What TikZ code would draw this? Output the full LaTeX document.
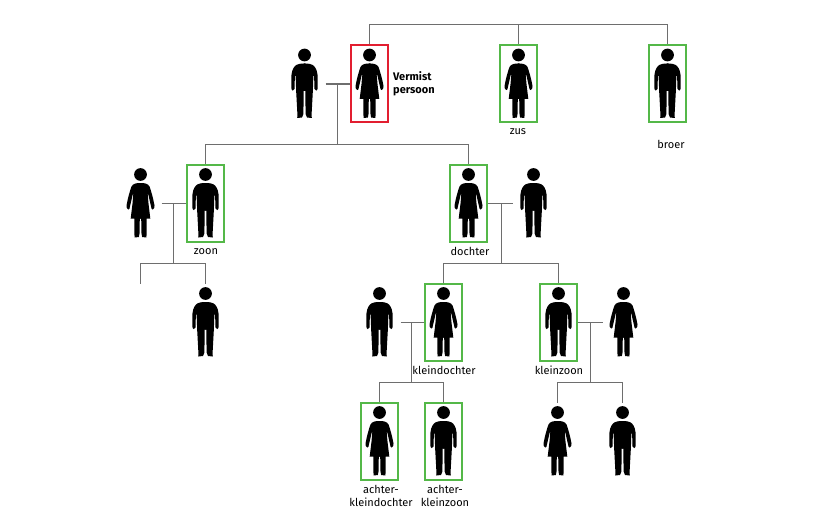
\documentclass[tikz,border=0pt]{standalone}
\usepackage{fontspec}
\setmainfont{Fira Sans}
\usepackage{tikz}
\usetikzlibrary{positioning,calc}
\definecolor{keepgreen}{RGB}{84,184,72}
\definecolor{missingred}{RGB}{226,30,48}
\definecolor{linegray}{RGB}{110,110,110}
\tikzset{
  slot/.style={minimum width=42pt,minimum height=78pt,inner sep=0pt,outer sep=0pt},
  kinbox/.style={draw=keepgreen,line width=2pt,minimum width=37pt,minimum height=77pt,inner sep=0pt,outer sep=1pt},
  missingbox/.style={kinbox,draw=missingred},
  link/.style={draw=linegray,line width=1.2pt},
  lbl/.style={font=\fontsize{11}{13}\selectfont,inner sep=0pt,align=center},
  man/.pic={
    \fill (0,-29) circle (6.4);
    \foreach \s in {1,-1}
      \fill[xscale=\s] (-1,-20.5) -- (0,-20.5) .. controls (4,-20.5) and (7.5,-20) .. (9.5,-18)
        .. controls (12,-15.5) and (13.2,-11) .. (13.2,-6) -- (13.2,4)
        .. controls (13.2,7) and (10.2,7.5) .. (10,5) -- (9.6,-8) -- (8.9,-8)
        -- (8.3,8) -- (7,32) -- (7.4,34) -- (2.5,33.5) -- (1.1,30) -- (.8,7) -- (-1,7) -- cycle;
  },
  woman/.pic={
    \fill (0,-29) circle (6.4);
    \foreach \s in {1,-1}
      \fill[xscale=\s] (-1,-20.5) -- (0,-20.5) .. controls (4,-20.5) and (7.5,-20) .. (9,-17)
        .. controls (10.5,-13) and (12.8,-5) .. (14,2)
        .. controls (14.3,5) and (11.8,7.5) .. (11,5) -- (7.8,-9) -- (7.2,-9)
        -- (8,0) -- (9.8,15) -- (6.2,15) -- (6,32) -- (5.8,34) -- (1.6,33.5) -- (1,30) -- (.7,15) -- (-1,15) -- cycle;
  },
}
\begin{document}
\begin{tikzpicture}[x=1pt,y=-1pt]
  \useasboundingbox (.5,.5) rectangle (830.5,532.5);
  % eerste rij
  \node[slot] (partner) at (305,84.5) {}; \pic at (partner) {man};
  \node[missingbox] (vermist) at (370,84.5) {}; \pic at (vermist) {woman};
  \node[kinbox] (zus) at (519,84.5) {}; \pic at (zus) {woman};
  \node[kinbox] (broer) at (668,84.5) {}; \pic at (broer) {man};
  % kinderen
  \node[slot] (schoondochter) at (141,204) {}; \pic at (schoondochter) {woman};
  \node[kinbox] (zoon) at (206,204) {}; \pic at (zoon) {man};
  \node[kinbox] (dochter) at (469,204) {}; \pic at (dochter) {woman};
  \node[slot] (schoonzoon) at (534,204) {}; \pic at (schoonzoon) {man};
  % kleinkinderen
  \coordinate (leeg) at (141,284);
  \node[slot] (kleinkind) at (206,323) {}; \pic at (kleinkind) {man};
  \node[slot] (partnerkd) at (380,323) {}; \pic at (partnerkd) {man};
  \node[kinbox] (kleindochter) at (444,323) {}; \pic at (kleindochter) {woman};
  \node[kinbox] (kleinzoon) at (559,323) {}; \pic at (kleinzoon) {man};
  \node[slot] (partnerkz) at (624,323) {}; \pic at (partnerkz) {woman};
  % achterkleinkinderen
  \node[kinbox] (akd) at (380,442) {}; \pic at (akd) {woman};
  \node[kinbox] (akz) at (444,442) {}; \pic at (akz) {man};
  \node[slot] (ak1) at (558,442) {}; \pic at (ak1) {woman};
  \node[slot] (ak2) at (623,442) {}; \pic at (ak2) {man};
  % verbindingen
  \path[link] (vermist.north) -- ++(0,-20) -| (zus.north);
  \path[link] (vermist.north) -- ++(0,-20) -| (broer.north);
  \path[link] (partner.east) -- (vermist.west);
  \coordinate (j1) at (338,84.5);
  \path[link] (j1) -- (338,145) -| (zoon.north);
  \path[link] (338,145) -| (dochter.north);
  \path[link] (schoondochter.east) -- (zoon.west);
  \coordinate (j2) at (174,204);
  \path[link] (j2) -- (174,264) -| (leeg);
  \path[link] (174,264) -| (kleinkind.north);
  \path[link] (dochter.east) -- (schoonzoon.west);
  \coordinate (j3) at (502,204);
  \path[link] (j3) -- (502,264) -| (kleindochter.north);
  \path[link] (502,264) -| (kleinzoon.north);
  \path[link] (partnerkd.east) -- (kleindochter.west);
  \coordinate (j4) at (412,323);
  \path[link] (j4) -- (412,383) -| (akd.north);
  \path[link] (412,383) -| (akz.north);
  \path[link] (kleinzoon.east) -- (partnerkz.west);
  \coordinate (j5) at (591,323);
  \path[link] (j5) -- (591,383) -| (ak1.north);
  \path[link] (591,383) -| (ak2.north);
  % teksten
  \node[lbl,font=\fontsize{11}{13}\selectfont\bfseries,align=left,anchor=west] (tvermist) at (393.5,84.5) {Vermist\\persoon};
  \node[lbl] (tzus) at (518.5,132) {zus};
  \node[lbl] (tbroer) at (671.5,144.5) {broer};
  \node[lbl] (tzoon) at (206.5,252) {zoon};
  \node[lbl] (tdochter) at (470.5,252) {dochter};
  \node[lbl] (tkd) at (444.5,371) {kleindochter};
  \node[lbl] (tkz) at (559.5,371) {kleinzoon};
  \node[lbl] (takd) at (381.5,496) {achter-\\kleindochter};
  \node[lbl] (takz) at (445.5,496) {achter-\\kleinzoon};
\end{tikzpicture}
\end{document}
